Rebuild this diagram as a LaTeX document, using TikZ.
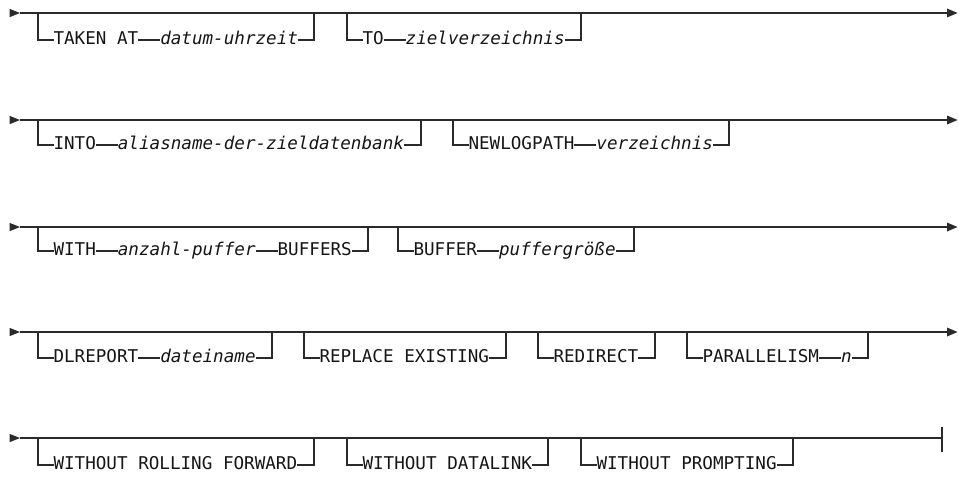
\documentclass[tikz,border=0pt]{standalone}
\usepackage{fontspec}
\setmonofont{DejaVu Sans Mono}
\usetikzlibrary{positioning}
\definecolor{ink}{HTML}{2A2A2A}
\definecolor{txt}{HTML}{151515}
\begin{document}
\begin{tikzpicture}[x=1pt,y=1pt,
  rail/.style={draw=ink, line width=1.1pt},
  kw/.style={inner sep=0pt, outer sep=0pt, anchor=west, text=txt, text height=12.8pt, text depth=4.2pt,
    font=\ttfamily\fontsize{17.6}{20}\selectfont},
  var/.style={kw, font=\ttfamily\itshape\fontsize{17.6}{20}\selectfont},
  tipfill/.style={fill=ink, draw=none}]
\useasboundingbox (0,0) rectangle (959,-477);

% ---------- main lines ----------
\foreach \r/\y in {1/-13,2/-120,3/-227,4/-332,5/-438}{
  \coordinate (s\r) at (20,\y);
  \fill[tipfill] (9.5,\y+4.2) -- (20,\y) -- (9.5,\y-4.2) -- cycle;
}
\foreach \r/\y in {1/-13,2/-120,3/-227,4/-332}{
  \coordinate (e\r) at (947,\y);
  \fill[tipfill] (947,\y+4.5) -- (957.5,\y) -- (947,\y-4.5) -- cycle;
  \draw[rail] (s\r) -- (e\r);
}
\coordinate (e5) at (942,-438);
\draw[rail] (s5) -- (e5);
\draw[rail] (942,-426.5) -- (942,-452);

% ---------- row 1 ----------
\coordinate (a1L) at (38,-13);  \coordinate (a1R) at (314,-13);
\node[kw]  (a1k) at (53.5,-40) {TAKEN AT};
\node[var, right=22pt of a1k] (a1v) {datum-uhrzeit};
\draw[rail] (a1L) |- (a1k.west);
\draw[rail] (a1k.east) -- (a1v.west);
\draw[rail] (a1v.east) -| (a1R);

\coordinate (b1L) at (347,-13); \coordinate (b1R) at (581,-13);
\node[kw]  (b1k) at (362.5,-40) {TO};
\node[var, right=22pt of b1k] (b1v) {zielverzeichnis};
\draw[rail] (b1L) |- (b1k.west);
\draw[rail] (b1k.east) -- (b1v.west);
\draw[rail] (b1v.east) -| (b1R);

% ---------- row 2 ----------
\coordinate (a2L) at (38,-120); \coordinate (a2R) at (421,-120);
\node[kw]  (a2k) at (53.5,-145) {INTO};
\node[var, right=22pt of a2k] (a2v) {aliasname-der-zieldatenbank};
\draw[rail] (a2L) |- (a2k.west);
\draw[rail] (a2k.east) -- (a2v.west);
\draw[rail] (a2v.east) -| (a2R);

\coordinate (b2L) at (453,-120); \coordinate (b2R) at (729,-120);
\node[kw]  (b2k) at (468.5,-145) {NEWLOGPATH};
\node[var, right=22pt of b2k] (b2v) {verzeichnis};
\draw[rail] (b2L) |- (b2k.west);
\draw[rail] (b2k.east) -- (b2v.west);
\draw[rail] (b2v.east) -| (b2R);

% ---------- row 3 ----------
\coordinate (a3L) at (38,-227); \coordinate (a3R) at (368,-227);
\node[kw]  (a3k) at (53.5,-251) {WITH};
\node[var, right=22pt of a3k] (a3v) {anzahl-puffer};
\node[kw,  right=22pt of a3v] (a3w) {BUFFERS};
\draw[rail] (a3L) |- (a3k.west);
\draw[rail] (a3k.east) -- (a3v.west);
\draw[rail] (a3v.east) -- (a3w.west);
\draw[rail] (a3w.east) -| (a3R);

\coordinate (b3L) at (398,-227); \coordinate (b3R) at (634,-227);
\node[kw]  (b3k) at (413.5,-251) {BUFFER};
\node[var, right=22pt of b3k] (b3v) {puffergröße};
\draw[rail] (b3L) |- (b3k.west);
\draw[rail] (b3k.east) -- (b3v.west);
\draw[rail] (b3v.east) -| (b3R);

% ---------- row 4 ----------
\coordinate (a4L) at (38,-332); \coordinate (a4R) at (272,-332);
\node[kw]  (a4k) at (53.5,-358) {DLREPORT};
\node[var, right=22pt of a4k] (a4v) {dateiname};
\draw[rail] (a4L) |- (a4k.west);
\draw[rail] (a4k.east) -- (a4v.west);
\draw[rail] (a4v.east) -| (a4R);

\coordinate (b4L) at (304,-332); \coordinate (b4R) at (506,-332);
\node[kw]  (b4k) at (319.5,-358) {REPLACE EXISTING};
\draw[rail] (b4L) |- (b4k.west);
\draw[rail] (b4k.east) -| (b4R);

\coordinate (c4L) at (538,-332); \coordinate (c4R) at (655,-332);
\node[kw]  (c4k) at (553.5,-358) {REDIRECT};
\draw[rail] (c4L) |- (c4k.west);
\draw[rail] (c4k.east) -| (c4R);

\coordinate (d4L) at (687,-332); \coordinate (d4R) at (868,-332);
\node[kw]  (d4k) at (702.5,-358) {PARALLELISM};
\node[var, right=22pt of d4k] (d4v) {n};
\draw[rail] (d4L) |- (d4k.west);
\draw[rail] (d4k.east) -- (d4v.west);
\draw[rail] (d4v.east) -| (d4R);

% ---------- row 5 ----------
\coordinate (a5L) at (38,-438); \coordinate (a5R) at (314,-438);
\node[kw]  (a5k) at (53.5,-465) {WITHOUT ROLLING FORWARD};
\draw[rail] (a5L) |- (a5k.west);
\draw[rail] (a5k.east) -| (a5R);

\coordinate (b5L) at (347,-438); \coordinate (b5R) at (548,-438);
\node[kw]  (b5k) at (362.5,-465) {WITHOUT DATALINK};
\draw[rail] (b5L) |- (b5k.west);
\draw[rail] (b5k.east) -| (b5R);

\coordinate (c5L) at (581,-438); \coordinate (c5R) at (793,-438);
\node[kw]  (c5k) at (596.5,-465) {WITHOUT PROMPTING};
\draw[rail] (c5L) |- (c5k.west);
\draw[rail] (c5k.east) -| (c5R);
\end{tikzpicture}
\end{document}
